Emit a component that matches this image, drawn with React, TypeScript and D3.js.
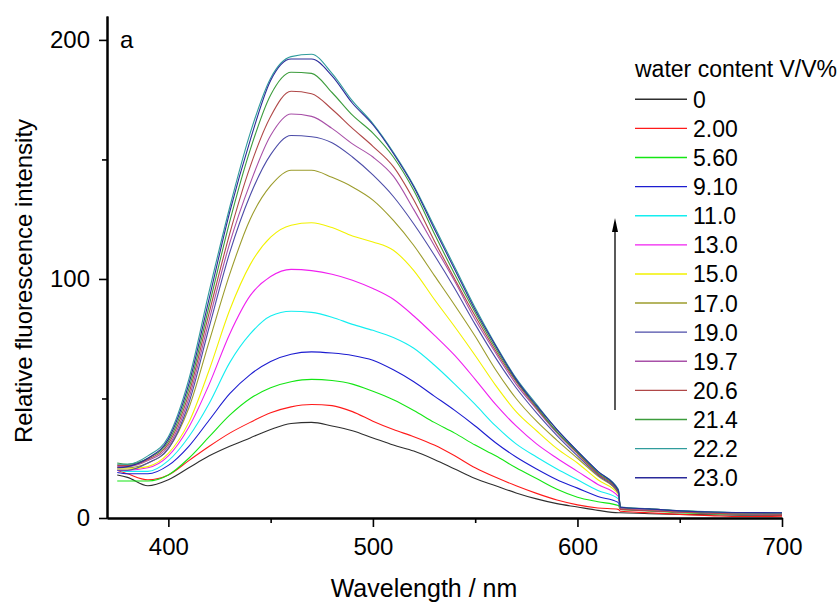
import React, { useEffect, useRef } from "react";
import * as d3 from "d3";

// wavelength grid (nm); the spectra stop at 620 and a flat baseline runs on to 700
const wavelengths = [
  375, 380, 390, 400, 410, 420, 430, 440, 450, 460, 470, 480, 490, 500, 510, 520,
  530, 540, 550, 560, 570, 580, 590, 600, 610, 620, 621, 635, 650, 665, 680, 700,
];

const waterContent = [
  "0", "2.00", "5.60", "9.10", "11.0", "13.0", "15.0",
  "17.0", "19.0", "19.7", "20.6", "21.4", "22.2", "23.0",
];

const w0 = [18, 17, 13.5, 16, 21, 26, 30, 33.5, 37, 39.5, 40, 38.5, 36.5, 33.5, 30.5, 28, 24.5, 20.5, 16.5, 13.5, 10.5, 8, 6, 4.6, 3.2, 2.2, 2.2, 1.8, 1.5, 1.3, 1.2, 1.2];
const w2_00 = [20, 18.5, 16, 18, 24, 30, 35.5, 40, 44, 46.5, 47.5, 47, 44.5, 40.5, 37, 34, 30.5, 26, 21, 17, 13.5, 10.3, 7.5, 5.5, 4.2, 3.6, 2.8, 2.2, 1.5, 1.0, 0.6, 0.8];
const w5_60 = [15.5, 15.5, 15.5, 18, 25, 34, 43, 50, 54.5, 57, 58, 57.5, 56, 53, 49.5, 45, 40, 35.5, 30.5, 26, 21, 16.5, 12, 8.7, 6.8, 5.2, 3.6, 3.0, 2.2, 1.8, 1.6, 1.5];
const w9_10 = [19, 18.5, 18.5, 22, 30, 41, 52, 60, 65.5, 68.5, 69.5, 69, 68, 66, 62, 57, 51, 45, 38.5, 31.5, 25.5, 20.5, 16, 12.5, 9, 6.5, 3.8, 3.2, 2.6, 2.0, 1.8, 1.8];
const w11_0 = [20, 19.5, 19.5, 24, 34, 48, 65, 77, 84.5, 86.5, 86, 84, 81, 78.5, 75.5, 71, 64, 56, 47.5, 38.5, 31, 25.5, 20.5, 16, 11.5, 8, 4.0, 3.4, 2.8, 2.2, 1.9, 1.8];
const w13_0 = [20, 20, 21, 26, 38, 56, 77, 93, 101, 104, 103.5, 102, 99.5, 96, 91.5, 84.5, 76.5, 68, 58, 47.5, 38.5, 31, 25, 19.5, 14, 9, 3.9, 3.3, 2.5, 2.1, 1.8, 1.7];
const w15_0 = [20.5, 20.5, 21.5, 27, 40, 62, 87, 106, 117.5, 122.5, 123.5, 121.5, 118, 115.5, 112, 103.5, 91.5, 80, 68, 55.5, 44.5, 36.5, 29, 23, 16, 10, 4.1, 3.5, 2.7, 2.2, 1.9, 1.9];
const w17_0 = [21, 21, 23, 29, 46, 74, 102, 125, 139, 145.5, 145.5, 142.5, 138.5, 133, 124.5, 114, 101.5, 89, 76, 62, 50, 40.5, 32.5, 25, 17.5, 10.5, 4.2, 3.6, 2.8, 2.3, 2.0, 1.9];
const w19_0 = [20, 20, 23, 29, 48, 80, 111, 135, 152, 160, 159.5, 157, 151, 143.5, 134.5, 123, 110, 96, 81, 67, 54.5, 44, 34.5, 26, 18, 10.5, 4.3, 3.7, 2.9, 2.4, 2.0, 2.0];
const w19_7 = [21.5, 21.5, 24, 30, 50, 83, 115, 140, 160, 169, 168, 163, 156.5, 151, 143, 129, 114, 99, 83, 69, 56, 45.5, 35.5, 27, 18.5, 11, 4.0, 3.5, 2.7, 2.3, 2.1, 2.0];
const w20_6 = [22, 22, 24.5, 31, 52, 86, 119, 147, 168, 178.5, 177.5, 171, 163, 155.5, 147, 133, 116, 100, 84.5, 70, 57, 46, 36, 27, 18.5, 11, 3.6, 3.0, 2.4, 2.0, 1.7, 1.6];
const w21_4 = [23, 22.5, 25, 32, 54, 89, 124, 154, 177, 186.5, 186, 178, 168.5, 161, 151, 137, 119, 102, 86, 71, 57.5, 46.5, 36, 27.5, 19, 11.5, 4.4, 3.8, 3.0, 2.5, 2.2, 2.1];
const w22_2 = [22.5, 22.5, 26, 34, 58, 95, 130, 161, 184, 193, 194, 186, 174.5, 165, 153, 139, 122, 105, 88, 72.5, 58.5, 47.5, 37, 28, 19.5, 12, 4.6, 3.9, 3.1, 2.6, 2.2, 2.2];
const w23_0 = [21, 21.5, 25, 33, 56, 92, 128, 158, 183, 192, 192, 185, 173.5, 164.5, 152.5, 138.5, 121, 104, 87, 72, 58, 47, 37, 28, 19.5, 11.5, 4.5, 3.8, 3.0, 2.5, 2.3, 2.2];

const seriesValues = [
  w0, w2_00, w5_60, w9_10, w11_0, w13_0, w15_0,
  w17_0, w19_0, w19_7, w20_6, w21_4, w22_2, w23_0,
];

const xMajorTicks = [400, 500, 600, 700];
const xMinorTicks = [450, 550, 650];
const yMajorTicks = [0, 100, 200];
const yMinorTicks = [50, 150];

const colors = [
  "#2e2e2e", "#ff1a1a", "#14e614", "#1c1cd0", "#14eef0", "#f020f0", "#f2f200",
  "#9c9c2c", "#4c4ca8", "#a850a8", "#b04848", "#3c9c3c", "#309c9c", "#2a2a9a",
];

const FONT = "'Liberation Sans', Arial, sans-serif";

export default function App() {
  const svgRef = useRef<SVGSVGElement>(null);

  useEffect(() => {
    const svg = d3.select(svgRef.current);
    svg.selectAll("*").remove();

    const x = d3.scaleLinear().domain([370, 700]).range([107, 782]);
    const y = d3.scaleLinear().domain([0, 210]).range([518, 16]);

    // spectra
    const line = d3
      .line<number>()
      .x((_, i) => x(wavelengths[i]))
      .y((d) => y(d))
      .curve(d3.curveMonotoneX);

    svg
      .append("g")
      .selectAll("path")
      .data(seriesValues)
      .enter()
      .append("path")
      .attr("d", (d) => line(d))
      .attr("fill", "none")
      .attr("stroke", (_, i) => colors[i])
      .attr("stroke-width", 1.1);

    // axes
    const styleAxis = (g: any) => {
      g.selectAll(".domain").attr("stroke-width", 2);
      g.selectAll(".tick line").attr("stroke-width", 1.6);
      g.selectAll("text")
        .attr("font-family", FONT)
        .attr("font-size", 24)
        .attr("fill", "#000");
    };

    svg
      .append("g")
      .attr("transform", "translate(0,518)")
      .call(d3.axisBottom(x).tickValues(xMinorTicks).tickSize(5).tickSizeOuter(0).tickFormat(() => ""))
      .call(styleAxis);
    svg
      .append("g")
      .attr("transform", "translate(0,518)")
      .call(d3.axisBottom(x).tickValues(xMajorTicks).tickSize(9).tickPadding(11).tickSizeOuter(0))
      .call(styleAxis);

    svg
      .append("g")
      .attr("transform", "translate(107,0)")
      .call(d3.axisLeft(y).tickValues(yMinorTicks).tickSize(5).tickSizeOuter(0).tickFormat(() => ""))
      .call(styleAxis);
    svg
      .append("g")
      .attr("transform", "translate(107,0)")
      .call(d3.axisLeft(y).tickValues(yMajorTicks).tickSize(8).tickPadding(9).tickSizeOuter(0))
      .call(styleAxis);

    // titles
    svg
      .append("text")
      .attr("x", 424)
      .attr("y", 597)
      .attr("text-anchor", "middle")
      .attr("font-family", FONT)
      .attr("font-size", 25)
      .text("Wavelength / nm");

    svg
      .append("text")
      .attr("transform", "translate(32,281) rotate(-90)")
      .attr("text-anchor", "middle")
      .attr("font-family", FONT)
      .attr("font-size", 24)
      .text("Relative fluorescence intensity");

    svg
      .append("text")
      .attr("x", 120)
      .attr("y", 48)
      .attr("font-family", FONT)
      .attr("font-size", 24)
      .text("a");

    // legend
    const legend = svg.append("g");
    legend
      .append("text")
      .attr("x", 635)
      .attr("y", 77)
      .attr("font-family", FONT)
      .attr("font-size", 23)
      .text("water content V/V%");

    const ly = d3.scaleLinear().domain([0, waterContent.length - 1]).range([99.3, 477.7]);
    const rows = legend
      .selectAll(".row")
      .data(waterContent)
      .enter()
      .append("g")
      .attr("class", "row")
      .attr("transform", (_, i) => `translate(0,${ly(i)})`);
    rows
      .append("line")
      .attr("x1", 635)
      .attr("x2", 687)
      .attr("stroke", (_, i) => colors[i])
      .attr("stroke-width", 1.4);
    rows
      .append("text")
      .attr("x", 693)
      .attr("y", 8.5)
      .attr("font-family", FONT)
      .attr("font-size", 23)
      .text((d) => d);

    // arrow showing increasing water content
    svg
      .append("line")
      .attr("x1", 615)
      .attr("x2", 615)
      .attr("y1", 410)
      .attr("y2", 230)
      .attr("stroke", "#000")
      .attr("stroke-width", 1.3);
    svg
      .append("path")
      .attr("d", "M615,218 L618,232 L612,232 Z")
      .attr("fill", "#000");
  }, []);

  return (
    <svg
      ref={svgRef}
      width={839}
      height={603}
      style={{ position: "absolute", left: 0, top: 0, background: "#fff" }}
    />
  );
}
